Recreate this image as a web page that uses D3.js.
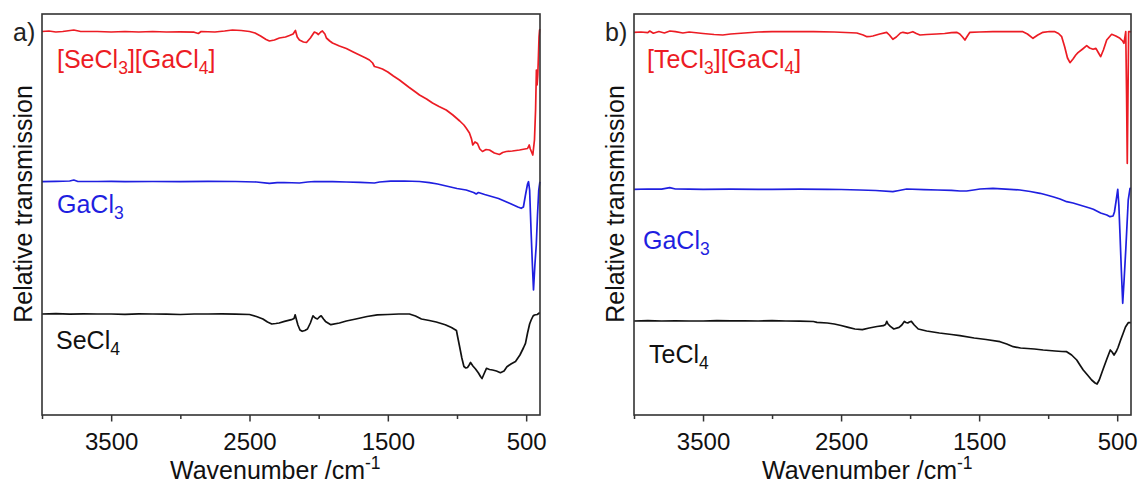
<!DOCTYPE html>
<html lang="en">
<head>
<meta charset="UTF-8">
<title>IR spectra</title>
<script src="https://cdnjs.cloudflare.com/ajax/libs/d3/7.8.5/d3.min.js"></script>
<style>
  body { margin: 0; background: #fff; }
  svg { display: block; font-family: 'Liberation Sans', Arial, sans-serif; }
</style>
</head>
<body>
<svg id="chart" width="1138" height="484"></svg>
<script>
// wavenumber /cm-1, relative transmission (arbitrary units, offset traces)
const seGaCl = [[4000,383.5],[3950,384],[3900,383],[3850,383.5],[3770,385],[3720,383.5],[3600,383.5],[3500,383],[3400,383.5],[3300,383],[3200,383.5],[3100,383],[3000,383.2],[2900,382.8],[2870,381.5],[2850,383.5],[2750,383],[2680,384],[2623,385],[2560,384.5],[2500,383.5],[2460,382],[2420,379],[2380,375.5],[2356,374],[2320,375],[2284,377],[2240,378],[2211,379.5],[2185,381],[2168,384.5],[2155,378],[2139,375],[2110,373],[2088,372.5],[2060,377],[2031,383],[2015,382],[2002,380.5],[1985,383],[1973,384],[1955,381],[1944,377],[1920,374],[1900,372],[1850,369],[1800,366.5],[1750,363],[1705,360],[1660,357],[1633,355],[1610,352],[1597,348.5],[1570,347.5],[1539,346],[1500,343],[1460,339],[1416,335],[1350,328],[1300,323],[1271,320],[1220,316],[1177,312],[1130,308.5],[1078,305],[1030,300],[980,294],[950,290],[934,287],[910,282],[895,276],[886,270],[870,273],[852,271.5],[835,266],[816,263.5],[790,265.5],[765,265],[730,262],[693,260.5],[670,262.5],[644,263.5],[600,264],[548,265],[510,266],[490,266.5],[478,270],[470,266],[452,260],[440,275],[432,305],[426,345],[421,330],[416,340],[411,360],[407,378],[403,385],[400,386]];
const gaClA = [[4000,233.3],[3900,233.6],[3800,234],[3770,235],[3740,233.5],[3600,233.5],[3500,233.7],[3400,233.3],[3200,233.5],[3000,233.3],[2800,233.6],[2600,233.5],[2450,233],[2356,231.7],[2300,232.3],[2250,232.5],[2139,232],[2080,233],[2031,233.5],[1900,233.4],[1800,233],[1700,232.6],[1597,232],[1560,233],[1480,233.8],[1380,234],[1271,233.5],[1199,232.3],[1140,231],[1078,229],[1000,226.5],[934,225],[880,222.5],[861,221],[845,222.5],[800,220.5],[750,218.5],[700,216.5],[620,211.7],[560,208],[536,206.7],[520,208],[505,220],[490,231],[483,233.3],[475,225],[464,182],[455,150],[447,125],[437,150],[427,170],[418,200],[409,225],[402,232],[400,233.3]];
const seCl = [[4000,101],[3900,101.3],[3800,100.8],[3700,101.2],[3600,101],[3500,101],[3400,100.7],[3300,101.2],[3200,101],[3100,100.8],[3000,100.5],[2900,101],[2800,101],[2700,101.2],[2600,100.8],[2500,100.5],[2450,98.5],[2403,96],[2370,93],[2339,91],[2310,91.5],[2286,92],[2247,93.6],[2197,95.3],[2178,96.5],[2170,100.2],[2162,96],[2150,90],[2135,85],[2119,83.7],[2100,84.5],[2081,86],[2060,92],[2041,99.2],[2025,97],[2009,96],[1995,98],[1982,99.2],[1965,96],[1951,93.6],[1912,90.3],[1850,92],[1800,94],[1731,96],[1650,98.5],[1576,100.2],[1500,100.5],[1420,101],[1344,101],[1300,99],[1257,96],[1200,94.5],[1150,93],[1085,90.3],[1040,87.5],[1004,84.5],[995,78],[982,69],[965,57],[950,48.5],[936,47],[924,47.5],[912,50],[902,52.5],[885,49],[866,46],[845,42],[830,38.5],[819,36.5],[805,41],[787,46.7],[765,45.5],[743,45],[715,44],[686,42.3],[660,44],[639,48.3],[610,51],[577,53.5],[545,60],[520,67],[505,71.7],[490,82],[475,91],[464,95],[450,99],[440,100],[420,100.5],[405,102],[400,102]];

const teGaCl = [[4000,382.7],[3950,383],[3900,382.3],[3886,384],[3860,381.8],[3820,383.5],[3780,382],[3740,384],[3700,383.3],[3646,382],[3600,383],[3500,381.5],[3420,380.5],[3357,380],[3300,381],[3200,382],[3100,383],[3000,383.3],[2850,383.3],[2700,383.3],[2550,383],[2386,382],[2340,380],[2313,378.3],[2290,378.5],[2270,379],[2220,381],[2170,382.7],[2150,380],[2125,375.7],[2100,378],[2070,382],[2052,382.7],[2016,381.7],[1980,383.3],[1955,381.5],[1929,380],[1880,380.5],[1808,381],[1750,381.5],[1700,382.3],[1663,382.7],[1640,381],[1620,378],[1603,375],[1585,379],[1567,382.7],[1500,383],[1400,383.3],[1300,383.3],[1183,383.3],[1150,381],[1110,376.7],[1075,380],[1038,382.7],[990,383.5],[951,383.3],[925,381.5],[902,378.3],[880,368],[860,357],[842,352.3],[820,356],[800,360],[784,362.3],[750,366],[721,369.3],[700,367],[675,365.7],[654,366.7],[635,362],[620,358.3],[600,365],[576,375],[540,380.7],[510,379],[480,376.7],[460,374],[451,371.7],[438,383.3],[432,320],[427,251.7],[422,320],[417,383.3],[407,383.3],[400,383]];
const gaClB = [[4000,225.7],[3900,226],[3800,225.8],[3741,227.3],[3700,226],[3600,225.8],[3500,225.7],[3300,225.9],[3100,225.7],[3000,225.7],[2800,225.8],[2600,225.6],[2500,225.5],[2364,225],[2250,224.5],[2125,223.3],[2080,224.5],[2025,226],[1900,225.3],[1800,225],[1700,224.6],[1639,224],[1591,224],[1540,225],[1494,226],[1400,226.7],[1277,225.7],[1204,225],[1130,223.5],[1059,221.7],[1011,220],[960,218],[914,216],[866,213.3],[820,212],[760,209.5],[700,207],[673,205.7],[620,202],[575,200],[552,198.3],[530,199],[520,203],[508,214],[496,225.7],[488,210],[480,182],[470,145],[460,111.7],[450,135],[438,165],[420,215],[407,226.7],[400,226.7]];
const teCl = [[4000,94],[3900,94.3],[3800,94],[3700,94.2],[3600,94],[3500,94],[3400,94.3],[3300,94.1],[3200,94.2],[3100,94],[3000,94.3],[2900,94],[2800,93.8],[2700,93.5],[2675,92.6],[2600,92],[2549,91],[2500,89.5],[2448,87.6],[2400,86],[2346,85.3],[2296,87],[2240,88.5],[2194,89.3],[2178,90.5],[2169,93.6],[2160,91],[2143,88.6],[2118,86],[2080,87.6],[2060,90],[2042,93.6],[2030,92.5],[2017,92],[2005,93],[1991,93.6],[1970,90],[1941,86],[1880,84],[1788,82],[1700,80.5],[1639,79.3],[1536,77],[1450,75.5],[1349,73.3],[1300,71],[1253,68.3],[1200,67],[1100,66],[1036,65],[950,64],[900,63.5],[866,63.3],[830,60],[793,55],[770,50],[746,45],[715,40],[685,35],[660,32],[646,31],[630,35],[612,42],[599,47],[575,56],[550,65],[537,63],[523,60],[505,64],[494,67.5],[475,75],[456,82],[440,88],[420,92.3],[400,92.3]];

const majorTicks = [3500, 2500, 1500, 500];
const minorTicks = [4000, 3000, 2000, 1000];
const wnDomain = [4000, 400];
const tDomain = [0, 401];
const panelTags = ['a)', 'b)'];
const labelsA = ['[SeCl3][GaCl4]', 'GaCl3', 'SeCl4'];
const labelsB = ['[TeCl3][GaCl4]', 'GaCl3', 'TeCl4'];

const RED = '#ec1c24', BLUE = '#1f1fe0', BLACK = '#111';
const plotTop = 14, plotBottom = 415;

const panels = [
  { left: 42, right: 540, tag: panelTags[0], data: [seGaCl, gaClA, seCl], labels: labelsA,
    labelPos: [[57, 68], [57, 213], [56, 349]] },
  { left: 634, right: 1131, tag: panelTags[1], data: [teGaCl, gaClB, teCl], labels: labelsB,
    labelPos: [[647, 68], [643, 249], [649, 363]] }
];
const colors = [RED, BLUE, BLACK];

const svg = d3.select('#chart');
svg.append('rect').attr('width', 1138).attr('height', 484).attr('fill', '#fff');

// digits become subscripts
function formula(sel, str) {
  const parts = str.split(/(\d+)/).filter(s => s.length);
  let sub = false;
  parts.forEach(p => {
    const isNum = /^\d+$/.test(p);
    const t = sel.append('tspan').text(p);
    if (isNum) { t.attr('font-size', '70%').attr('dy', 6); sub = true; }
    else if (sub) { t.attr('dy', -6); sub = false; }
  });
}

panels.forEach(p => {
  const x = d3.scaleLinear().domain(wnDomain).range([p.left, p.right]);
  const y = d3.scaleLinear().domain(tDomain).range([plotBottom, plotTop]);
  const g = svg.append('g');

  const line = d3.line().x(d => x(d[0])).y(d => y(d[1]));
  p.data.forEach((s, i) => {
    g.append('path').datum(s)
      .attr('fill', 'none')
      .attr('stroke', colors[i])
      .attr('stroke-width', 1.7)
      .attr('stroke-linejoin', 'round')
      .attr('d', line);
  });

  // major + minor ticks on bottom
  const ax = g.append('g').attr('transform', `translate(0,${plotBottom})`)
    .call(d3.axisBottom(x).tickValues(majorTicks).tickFormat(d3.format('d'))
      .tickSize(6.5).tickSizeOuter(0).tickPadding(11));
  ax.select('.domain').remove();
  ax.selectAll('line').attr('stroke', '#333').attr('stroke-width', 1.5);
  ax.selectAll('text').attr('font-size', 24).attr('fill', '#111')
    .attr('font-family', "'Liberation Sans', Arial, sans-serif");
  const mx = g.append('g').attr('transform', `translate(0,${plotBottom})`)
    .call(d3.axisBottom(x).tickValues(minorTicks).tickSize(4).tickFormat(''));
  mx.select('.domain').remove();
  mx.selectAll('line').attr('stroke', '#333').attr('stroke-width', 1.5);

  g.append('rect')
    .attr('x', p.left).attr('y', plotTop)
    .attr('width', p.right - p.left).attr('height', plotBottom - plotTop)
    .attr('fill', 'none').attr('stroke', '#333').attr('stroke-width', 1.6);

  // curve labels
  p.labels.forEach((l, i) => {
    const t = g.append('text')
      .attr('x', p.labelPos[i][0]).attr('y', p.labelPos[i][1])
      .attr('font-size', 25).attr('fill', colors[i]);
    formula(t, l);
  });

  g.append('text').attr('x', p.left - 29).attr('y', 41)
    .attr('font-size', 25).attr('fill', '#222').text(p.tag);

  g.append('text')
    .attr('transform', `translate(${p.left - 10},204) rotate(-90)`)
    .attr('text-anchor', 'middle').attr('font-size', 25).attr('fill', '#111')
    .text('Relative transmission');

  const xl = g.append('text').attr('x', p.left + 128).attr('y', 479)
    .attr('font-size', 25).attr('fill', '#111');
  xl.append('tspan').text('Wavenumber /cm');
  xl.append('tspan').attr('font-size', '70%').attr('dy', -10).text('-1');
});
</script>
</body>
</html>
